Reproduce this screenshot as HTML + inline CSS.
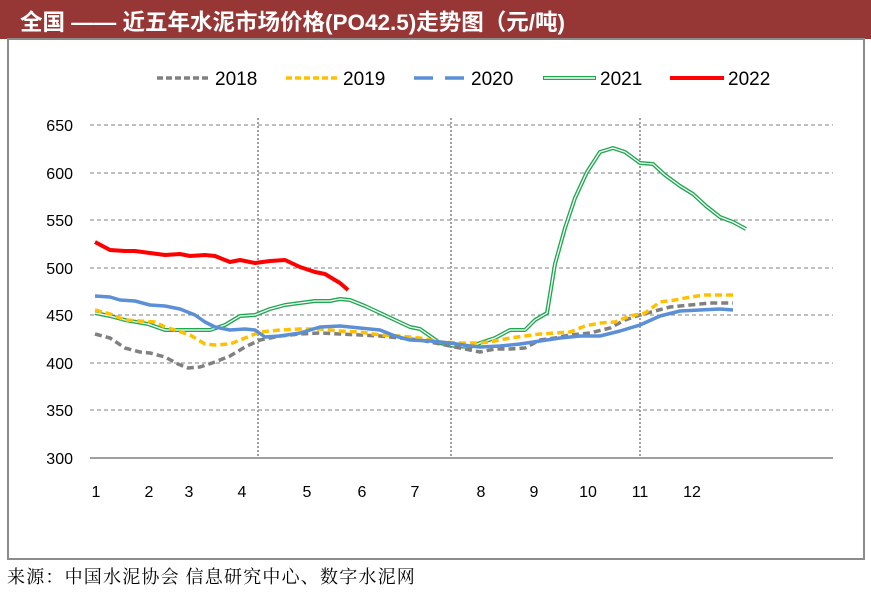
<!DOCTYPE html>
<html><head><meta charset="utf-8"><style>
body{margin:0;background:#fff;}
svg{display:block;font-family:"Liberation Sans","Noto Sans CJK SC",sans-serif;}
</style></head><body>
<svg width="871" height="593" viewBox="0 0 871 593">
<rect x="0" y="0" width="871" height="39" fill="#973735"/>
<text x="20" y="30" fill="#fff" font-size="22.5" font-weight="bold">全国 —— 近五年水泥市场价格(PO42.5)走势图（元/吨)</text>
<rect x="8" y="39" width="856" height="520" fill="none" stroke="#8c8c8c" stroke-width="2"/>
<!-- legend -->
<g font-size="19" fill="#000">
<line x1="157" y1="78" x2="210" y2="78" stroke="#808080" stroke-width="3.5" stroke-dasharray="6,3"/><text x="215" y="85">2018</text>
<line x1="286" y1="78" x2="339" y2="78" stroke="#ffc000" stroke-width="3.5" stroke-dasharray="6,3"/><text x="343" y="85">2019</text>
<line x1="414" y1="78" x2="466" y2="78" stroke="#5b8fd6" stroke-width="3.5" stroke-dasharray="19,12"/><text x="471" y="85">2020</text>
<line x1="543" y1="78" x2="596" y2="78" stroke="#1fa850" stroke-width="4"/><line x1="544" y1="78" x2="595" y2="78" stroke="#fff" stroke-width="1.5"/><text x="600" y="85">2021</text>
<line x1="670" y1="78" x2="724" y2="78" stroke="#ff0000" stroke-width="4"/><text x="728" y="85">2022</text>
</g>
<!-- grid -->
<g stroke="#808080" stroke-width="1" stroke-dasharray="4,3">
<line x1="90" y1="125" x2="833" y2="125"/><line x1="90" y1="173" x2="833" y2="173"/>
<line x1="90" y1="220" x2="833" y2="220"/><line x1="90" y1="268" x2="833" y2="268"/>
<line x1="90" y1="315" x2="833" y2="315"/><line x1="90" y1="363" x2="833" y2="363"/>
<line x1="90" y1="410" x2="833" y2="410"/>
</g>
<g stroke="#a0a0a0" stroke-width="2" stroke-dasharray="2,2">
<line x1="258" y1="118" x2="258" y2="458"/><line x1="451" y1="118" x2="451" y2="458"/><line x1="640" y1="118" x2="640" y2="458"/>
</g>
<line x1="90" y1="458" x2="833" y2="458" stroke="#808080" stroke-width="1.5"/>
<g stroke="#808080" stroke-width="1" id="ticks"></g>
<g font-size="16" fill="#000" text-anchor="end">
<text x="73" y="131">650</text><text x="73" y="179">600</text><text x="73" y="226">550</text><text x="73" y="274">500</text><text x="73" y="321">450</text><text x="73" y="369">400</text><text x="73" y="416">350</text><text x="73" y="464">300</text>
</g>
<g font-size="16" fill="#000" text-anchor="middle">
<text x="96" y="497">1</text><text x="149" y="497">2</text><text x="189" y="497">3</text><text x="242" y="497">4</text><text x="307" y="497">5</text><text x="362" y="497">6</text><text x="415" y="497">7</text><text x="481" y="497">8</text><text x="534" y="497">9</text><text x="588" y="497">10</text><text x="640" y="497">11</text><text x="692" y="497">12</text>
</g>
<!-- series -->
<g fill="none" stroke-linejoin="round">
<polyline stroke="#1fa850" stroke-width="4" points="95,313 110,316 125,320 148,324 165,330 190,330 210,330 225,325 240,316 255,315 270,309 285,305 300,303 315,301 330,301 340,299 350,300 365,306 380,313 395,320 410,327 420,329 430,336 440,343 455,346 470,347 480,343 495,338 510,330 525,330 535,320 547,313 555,264 565,228 575,198 587,172 600,152 613,148 625,152 640,163 653,164 665,175 680,186 693,194 706,206 720,217 733,222 746,229"/>
<polyline stroke="#fff" stroke-width="1.3" points="95,313 110,316 125,320 148,324 165,330 190,330 210,330 225,325 240,316 255,315 270,309 285,305 300,303 315,301 330,301 340,299 350,300 365,306 380,313 395,320 410,327 420,329 430,336 440,343 455,346 470,347 480,343 495,338 510,330 525,330 535,320 547,313 555,264 565,228 575,198 587,172 600,152 613,148 625,152 640,163 653,164 665,175 680,186 693,194 706,206 720,217 733,222 746,229"/>
<polyline stroke="#808080" stroke-width="3.5" stroke-dasharray="7,4" points="95,334 110,338 125,348 140,352 150,353 165,357 178,364 188,368 200,367 215,362 230,356 245,347 260,340 280,336 300,334 320,333 340,334 360,335 380,336 400,338 420,340 440,344 460,348 480,352 495,349 510,349 525,348 540,340 555,338 570,335 590,333 610,328 625,320 640,315 655,311 670,307 690,305 710,303 733,303"/>
<polyline stroke="#ffc000" stroke-width="3.5" stroke-dasharray="7,4" points="95,310 110,314 125,320 140,321 155,322 165,327 175,330 190,335 205,344 215,345 230,344 245,338 260,332 280,330 300,329 320,329 340,331 360,332 380,335 400,336 420,338 440,342 460,343 480,343 495,341 510,338 525,336 540,334 555,333 570,332 585,326 600,323 615,322 630,316 645,313 660,302 675,300 690,297 705,295 720,295 733,295"/>
<polyline stroke="#5b8fd6" stroke-width="3.5" points="95,296 110,297 120,300 135,301 150,305 165,306 180,309 195,315 205,322 215,327 230,330 245,329 255,330 265,337 280,336 300,333 320,327 340,326 360,328 380,330 395,336 410,340 430,341 450,343 470,346 480,347 500,346 520,344 540,341 560,338 580,336 600,336 620,331 640,325 660,316 680,311 700,310 720,309 733,310"/>
<polyline stroke="#ff0000" stroke-width="4" points="95,242 110,250 125,251 135,251 150,253 165,255 180,254 190,256 205,255 215,256 230,262 240,260 255,263 270,261 285,260 300,267 315,272 325,274 340,283 348,290"/>
</g>
<text x="7" y="583" font-size="18" letter-spacing="1.2" fill="#000" font-family="'Noto Serif CJK SC','Noto Sans CJK SC',serif">来源：中国水泥协会  信息研究中心、数字水泥网</text>
<script>
var g=document.getElementById('ticks'),s='';
for(var i=0;i<=56;i++){var x=90+i*13.27;s+='<line x1="'+x+'" y1="458" x2="'+x+'" y2="463"/>';}
g.innerHTML=s;
</script>
</svg>
</body></html>
